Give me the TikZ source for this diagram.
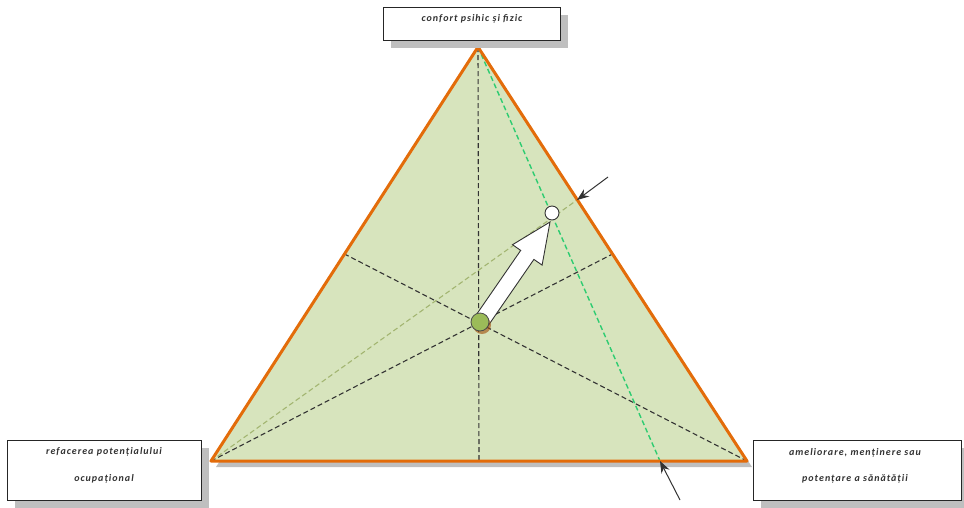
\documentclass[tikz,border=0pt]{standalone}
\usepackage{fontspec}
\setmainfont{Carlito}
\newfontfamily\lblfont[LetterSpace=10]{Carlito}
\usetikzlibrary{arrows.meta,calc}
\definecolor{trifill}{HTML}{D7E4BD}
\definecolor{triedge}{HTML}{E36C0A}
\definecolor{shadowgray}{HTML}{BFBFBF}
\definecolor{greendash}{HTML}{2ECC71}
\definecolor{olivedash}{HTML}{A3B571}
\definecolor{dotgreen}{HTML}{9BBB59}
\tikzset{
  lblbox/.style={draw=black!85, fill=white, line width=1pt, inner sep=0pt},
  lbltext/.style={font=\lblfont\fontsize{10}{13}\selectfont\bfseries\itshape, text=black!80},
  median/.style={draw=black!80, dash pattern=on 5pt off 3pt, line width=1.1pt},
  greenline/.style={draw=greendash, dash pattern=on 5pt off 3pt, line width=1.4pt},
  oliveline/.style={draw=olivedash, dash pattern=on 5pt off 3pt, line width=1.1pt},
  pointer/.style={draw=black!80, line width=1pt, -{Stealth[length=12pt,width=9pt]}},
}
\begin{document}
\begin{tikzpicture}[x=1pt,y=-1pt]
\useasboundingbox (0,0) rectangle (964,507);
% vertices
\coordinate (A) at (478,47);
\coordinate (B) at (211,461);
\coordinate (C) at (747,461);
\coordinate (G) at (480,322);
\coordinate (mAB) at ($(A)!0.5!(B)$);
\coordinate (mAC) at ($(A)!0.5!(C)$);
\coordinate (mBC) at ($(B)!0.5!(C)$);
\coordinate (P) at (577,200);
\coordinate (Q) at (660,461);
\coordinate (W) at (552,213);
% triangle shadow and triangle
\fill[shadowgray] ($(A)+(5,6)$) -- ($(B)+(5,6)$) -- ($(C)+(5,6)$) -- cycle;
\fill[trifill] (A) -- (B) -- (C) -- cycle;
% medians
\draw[median] (A) -- (mBC);
\draw[median] (B) -- (mAC);
\draw[median] (C) -- (mAB);
% green and olive lines
\draw[oliveline] (B) -- (P);
\draw[greenline] (A) -- (Q);
% triangle border
\draw[triedge, line width=3pt, line join=round] (A) -- (B) -- (C) -- cycle;
% big white arrow
\coordinate (T) at (550,222);
\draw[black!80, fill=white, line width=0.9pt, line join=miter]
  (474.4,317.5) -- (520.7,250.4) -- (512.5,244.7) -- (T) -- (542.1,265.1)
  -- (533.9,259.4) -- (487.6,326.5) -- cycle;
% white circle and green dot
\node[circle, draw=black!80, fill=white, line width=0.9pt, minimum size=14pt, inner sep=0pt] (wc) at (W) {};
\fill[triedge!70!black, opacity=0.6] (482,325) circle (9pt);
\node[circle, draw=black!70, fill=dotgreen, line width=0.8pt, minimum size=18pt, inner sep=0pt] (gd) at (G) {};
% small arrows
\coordinate (p1) at (608,177);
\coordinate (p2) at (680,500);
\draw[pointer] (p1) -- (P);
\draw[pointer] (p2) -- (Q);
% boxes
\fill[shadowgray] (391,15) rectangle (568,48);
\node[lblbox, minimum width=177pt, minimum height=33pt, anchor=north west] (top) at (383,7) {};
\node[lbltext] at (472,19) {confort psihic și fizic};
\fill[shadowgray] (15,448) rectangle (209,508);
\node[lblbox, minimum width=194pt, minimum height=60pt, anchor=north west] (left) at (7,440) {};
\node[lbltext] at (104,452) {refacerea potențialului};
\node[lbltext] at (104,479) {ocupațional};
\fill[shadowgray] (761,448) rectangle (969,508);
\node[lblbox, minimum width=208pt, minimum height=60pt, anchor=north west] (right) at (753,440) {};
\node[lbltext] at (855,453) {ameliorare, menținere sau};
\node[lbltext] at (855,479) {potențare a sănătății};
\end{tikzpicture}
\end{document}
